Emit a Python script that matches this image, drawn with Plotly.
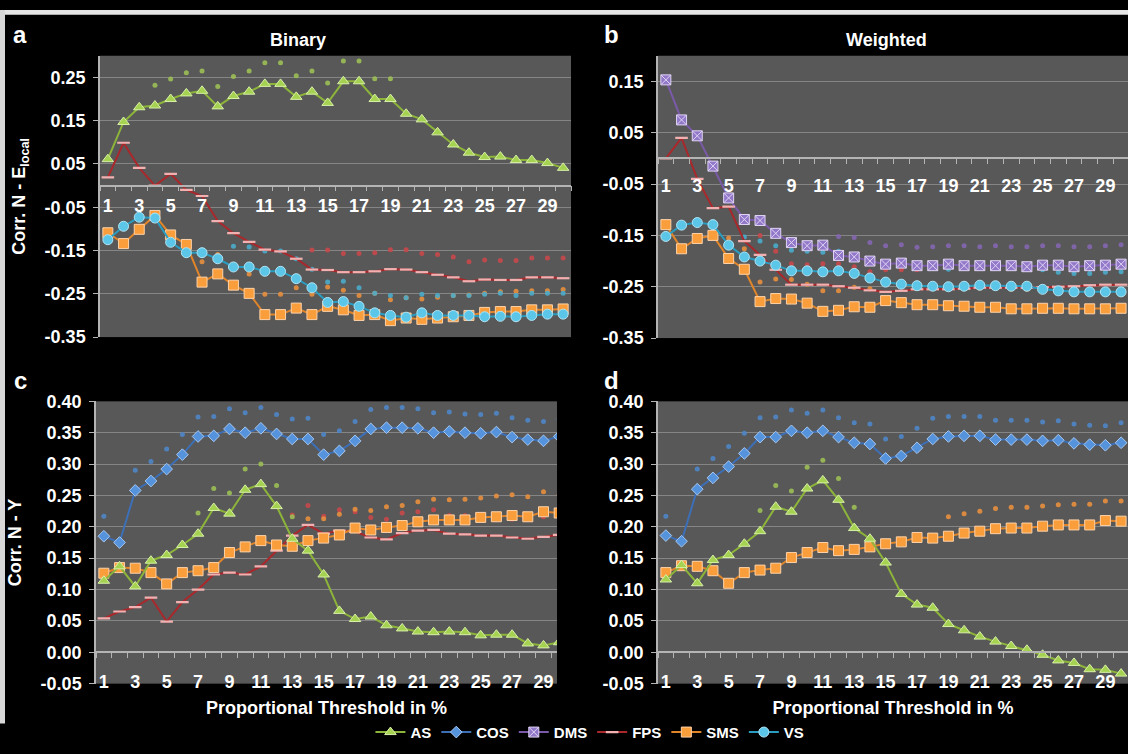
import plotly.graph_objects as go

W, H = 1128, 754
FONT = "Liberation Sans, Arial, sans-serif"

# ---------------- data ----------------
categories = list(range(1, 31))
x_tickvals = list(range(1, 30, 2))
x_ticktext = [str(v) for v in x_tickvals]

ytick_ab_vals = [0.25, 0.15, 0.05, -0.05, -0.15, -0.25, -0.35]
ytick_ab_text = ["0.25", "0.15", "0.05", "-0.05", "-0.15", "-0.25", "-0.35"]
ytick_b_vals = [0.15, 0.05, -0.05, -0.15, -0.25, -0.35]
ytick_b_text = ["0.15", "0.05", "-0.05", "-0.15", "-0.25", "-0.35"]
ytick_cd_vals = [0.40, 0.35, 0.30, 0.25, 0.20, 0.15, 0.10, 0.05, 0.00, -0.05]
ytick_cd_text = ["0.40", "0.35", "0.30", "0.25", "0.20", "0.15", "0.10", "0.05", "0.00", "-0.05"]

# Panel a: Binary, Corr. N - E_local
a_AS = [0.061, 0.147, 0.181, 0.185, 0.200, 0.213, 0.219, 0.183, 0.207, 0.217, 0.235, 0.235, 0.205, 0.217, 0.191,
        0.241, 0.241, 0.200, 0.200, 0.166, 0.153, 0.123, 0.095, 0.076, 0.066, 0.067, 0.059, 0.059, 0.052, 0.041]
a_FPS = [0.019, 0.099, 0.041, 0.000, 0.027, -0.010, -0.024, -0.082, -0.110, -0.130, -0.148, -0.152, -0.169, -0.194, -0.195,
         -0.200, -0.200, -0.198, -0.193, -0.194, -0.200, -0.206, -0.212, -0.221, -0.217, -0.218, -0.218, -0.212, -0.212, -0.214]
a_SMS = [-0.109, -0.134, -0.101, -0.069, -0.114, -0.136, -0.223, -0.204, -0.230, -0.249, -0.298, -0.298, -0.283, -0.298, -0.279,
         -0.287, -0.300, -0.298, -0.312, -0.306, -0.309, -0.306, -0.303, -0.300, -0.293, -0.291, -0.291, -0.287, -0.287, -0.285]
a_VS = [-0.125, -0.094, -0.073, -0.075, -0.131, -0.155, -0.155, -0.169, -0.188, -0.188, -0.198, -0.198, -0.215, -0.236, -0.270,
        -0.268, -0.279, -0.294, -0.300, -0.304, -0.294, -0.300, -0.300, -0.300, -0.303, -0.302, -0.303, -0.300, -0.297, -0.297]
# small dots (secondary estimates) — (first category, values)
a_AS_dots = (4, [0.232, 0.246, 0.261, 0.265, 0.229, 0.252, 0.265, 0.284, 0.284, 0.254, 0.265, 0.237, 0.288, 0.288, 0.247, 0.247])
a_FPS_dots = (14, [-0.149, -0.149, -0.157, -0.157, -0.155, -0.148, -0.148, -0.157, -0.159, -0.165, -0.176, -0.172, -0.173,
                   -0.173, -0.167, -0.167, -0.167])
a_SMS_dots = (7, [-0.176, -0.159, -0.182, -0.204, -0.251, -0.251, -0.236, -0.251, -0.234, -0.242, -0.254, -0.249, -0.264,
                  -0.259, -0.262, -0.258, -0.254, -0.253, -0.249, -0.245, -0.244, -0.243, -0.243, -0.240])
a_VS_dots = (9, [-0.140, -0.142, -0.151, -0.151, -0.169, -0.193, -0.223, -0.221, -0.236, -0.249, -0.254, -0.259, -0.251,
                 -0.254, -0.254, -0.254, -0.251, -0.249, -0.254, -0.249, -0.249, -0.249])

# Panel b: Weighted, Corr. N - E_local
b_DMS = [0.153, 0.075, 0.044, -0.015, -0.077, -0.119, -0.121, -0.146, -0.164, -0.170, -0.169, -0.189, -0.192, -0.200, -0.206,
         -0.204, -0.209, -0.209, -0.206, -0.209, -0.209, -0.209, -0.209, -0.211, -0.208, -0.208, -0.211, -0.209, -0.208, -0.206]
b_FPS = [0.000, 0.040, -0.040, -0.097, -0.094, -0.161, -0.188, -0.217, -0.246, -0.246, -0.246, -0.249, -0.252, -0.257, -0.260,
         -0.258, -0.255, -0.255, -0.255, -0.254, -0.252, -0.252, -0.252, -0.252, -0.251, -0.250, -0.249, -0.247, -0.246, -0.246]
b_SMS = [-0.129, -0.176, -0.156, -0.150, -0.195, -0.216, -0.279, -0.273, -0.274, -0.282, -0.298, -0.296, -0.289, -0.290, -0.277,
         -0.281, -0.285, -0.285, -0.287, -0.288, -0.290, -0.290, -0.293, -0.293, -0.292, -0.292, -0.293, -0.293, -0.293, -0.292]
b_VS = [-0.152, -0.130, -0.125, -0.129, -0.169, -0.192, -0.200, -0.208, -0.219, -0.219, -0.221, -0.219, -0.224, -0.233, -0.241,
        -0.245, -0.248, -0.249, -0.250, -0.249, -0.247, -0.248, -0.249, -0.249, -0.255, -0.258, -0.260, -0.260, -0.260, -0.260]
b_DMS_dots = (12, [-0.152, -0.154, -0.164, -0.170, -0.168, -0.173, -0.172, -0.170, -0.170, -0.172, -0.170, -0.172, -0.172,
                   -0.170, -0.170, -0.172, -0.172, -0.170, -0.168])
b_FPS_dots = (7, [-0.150, -0.181, -0.205, -0.207, -0.205, -0.205, -0.211, -0.221, -0.217, -0.217, -0.217, -0.213, -0.213,
                  -0.214, -0.213, -0.213, -0.214, -0.214, -0.213, -0.213, -0.213, -0.208, -0.208, -0.208])
b_SMS_dots = (5, [-0.155, -0.176, -0.241, -0.235, -0.236, -0.245, -0.258, -0.258, -0.251, -0.254, -0.243, -0.245, -0.249,
                  -0.249, -0.251, -0.252, -0.253, -0.253, -0.255, -0.255, -0.255, -0.255, -0.257, -0.257, -0.257, -0.255])
b_VS_dots = (6, [-0.153, -0.161, -0.170, -0.179, -0.181, -0.183, -0.181, -0.188, -0.197, -0.206, -0.208, -0.212, -0.214,
                 -0.216, -0.214, -0.212, -0.213, -0.214, -0.214, -0.217, -0.222, -0.224, -0.224, -0.222, -0.221])

# Panel c: Binary, Corr. N - Y
c_AS = [0.114, 0.137, 0.105, 0.146, 0.155, 0.171, 0.189, 0.230, 0.221, 0.259, 0.268, 0.233, 0.181, 0.162, 0.124,
        0.066, 0.053, 0.057, 0.043, 0.038, 0.033, 0.032, 0.033, 0.032, 0.027, 0.028, 0.028, 0.014, 0.011, 0.016]
c_COS = [0.185, 0.175, 0.258, 0.273, 0.292, 0.315, 0.344, 0.345, 0.356, 0.350, 0.357, 0.348, 0.340, 0.340, 0.315,
         0.321, 0.337, 0.356, 0.358, 0.358, 0.357, 0.350, 0.352, 0.350, 0.349, 0.351, 0.343, 0.339, 0.337, 0.344]
c_FPS = [0.054, 0.065, 0.072, 0.087, 0.049, 0.080, 0.100, 0.124, 0.127, 0.124, 0.137, 0.162, 0.186, 0.203, 0.189,
         0.194, 0.192, 0.183, 0.180, 0.190, 0.194, 0.195, 0.189, 0.188, 0.186, 0.186, 0.183, 0.181, 0.184, 0.187]
c_SMS = [0.126, 0.135, 0.134, 0.127, 0.109, 0.127, 0.130, 0.135, 0.159, 0.168, 0.178, 0.171, 0.169, 0.178, 0.182,
         0.187, 0.198, 0.195, 0.199, 0.202, 0.208, 0.211, 0.211, 0.211, 0.215, 0.216, 0.218, 0.216, 0.224, 0.222]
c_COS_dots = (1, [0.217, None, 0.290, 0.304, 0.324, 0.347, 0.375, 0.376, 0.388, 0.382, 0.390, 0.379, 0.372, 0.373, 0.347,
                  0.353, 0.368, 0.387, 0.390, 0.390, 0.388, 0.382, 0.383, 0.380, 0.379, 0.381, 0.374, 0.370, 0.368, 0.372])
c_AS_dots = (7, [0.222, 0.261, 0.254, 0.292, 0.300, 0.266, 0.216])
c_FPS_dots = (13, [0.219, 0.234, 0.217, 0.227, 0.224, 0.215, 0.212, 0.222, 0.224, 0.227, 0.218, 0.218, 0.215, 0.216,
                   0.212, 0.215, 0.216, 0.217])
c_SMS_dots = (14, [0.213, 0.213, 0.220, 0.228, 0.226, 0.232, 0.234, 0.240, 0.244, 0.243, 0.244, 0.246, 0.249, 0.251,
                   0.248, 0.256, 0.251])

# Panel d: Weighted, Corr. N - Y
d_AS = [0.116, 0.139, 0.110, 0.147, 0.155, 0.173, 0.193, 0.232, 0.224, 0.261, 0.274, 0.243, 0.198, 0.181, 0.143,
        0.093, 0.076, 0.071, 0.045, 0.035, 0.025, 0.017, 0.010, 0.004, -0.004, -0.013, -0.017, -0.027, -0.028, -0.034]
d_COS = [0.186, 0.177, 0.260, 0.278, 0.296, 0.317, 0.343, 0.343, 0.353, 0.350, 0.353, 0.343, 0.334, 0.332, 0.309,
         0.313, 0.326, 0.340, 0.344, 0.345, 0.345, 0.339, 0.339, 0.339, 0.337, 0.338, 0.333, 0.331, 0.330, 0.334]
d_SMS = [0.127, 0.138, 0.137, 0.130, 0.110, 0.127, 0.131, 0.134, 0.151, 0.159, 0.167, 0.162, 0.164, 0.168, 0.173,
         0.176, 0.183, 0.182, 0.185, 0.190, 0.193, 0.197, 0.198, 0.198, 0.201, 0.203, 0.203, 0.203, 0.210, 0.209]
d_COS_dots = (1, [0.217, None, 0.292, 0.309, 0.328, 0.349, 0.374, 0.375, 0.386, 0.381, 0.386, 0.374, 0.366, 0.364, 0.340,
                  0.344, 0.357, 0.373, 0.376, 0.376, 0.376, 0.370, 0.370, 0.370, 0.367, 0.369, 0.364, 0.362, 0.361, 0.366])
d_AS_dots = (7, [0.226, 0.266, 0.257, 0.295, 0.306, 0.277, 0.231])
d_SMS_dots = (19, [0.216, 0.221, 0.225, 0.229, 0.231, 0.231, 0.233, 0.235, 0.236, 0.236, 0.241, 0.241])

# ---------------- styles ----------------
STYLE = {
    "AS":  dict(line="#8db43a", fill="#a5d250", edge="#d8f0a8", symbol="triangle-up", size=10, dot="#9cbf55"),
    "COS": dict(line="#3d6fb6", fill="#5593dc", edge="#a8c8f0", symbol="diamond", size=9, dot="#4f86c8"),
    "DMS": dict(line="#7a5aa8", fill="#9278c8", edge="#e0d4f4", symbol="square-x", size=10, dot="#8466b0"),
    "FPS": dict(line="#a8282c", fill="#f2aaaa", edge="#f2b0b0", symbol="line-ew", size=9, dot="#c8484a"),
    "SMS": dict(line="#e0852a", fill="#fa9e3c", edge="#fdd2a8", symbol="square", size=10, dot="#e8903e"),
    "VS":  dict(line="#2a9cc0", fill="#5cc6e8", edge="#b0e4f4", symbol="circle", size=10, dot="#4aaccc"),
}
ORDER = ["AS", "COS", "DMS", "FPS", "SMS", "VS"]

BG = "#000000"
PLOT_BG = "#585858"
GRID = "#858585"
AXC = "#b4b4b4"

def px_x(l, r):
    return [l / W, r / W]

def px_y(t, b):
    return [1 - b / H, 1 - t / H]

panels = {
    "a": dict(xd=px_x(100, 571), yd=px_y(47, 336), xr=[0.5, 30.5], yr=[-0.35, 0.30], lab_off=0),
    "b": dict(xd=px_x(658, 1128), yd=px_y(47, 337), xr=[0.5, 30.44], yr=[-0.35, 0.20], lab_off=7),
    "c": dict(xd=px_x(96, 557), yd=px_y(402, 692), xr=[0.5, 29.86], yr=[-0.05, 0.40], lab_off=9),
    "d": dict(xd=px_x(658, 1128), yd=px_y(402, 692), xr=[0.5, 30.44], yr=[-0.05, 0.40], lab_off=9),
}
axis_ids = {"a": "", "b": "2", "c": "3", "d": "4"}

series = {
    "a": [("AS", a_AS, a_AS_dots), ("FPS", a_FPS, a_FPS_dots), ("SMS", a_SMS, a_SMS_dots), ("VS", a_VS, a_VS_dots)],
    "b": [("DMS", b_DMS, b_DMS_dots), ("FPS", b_FPS, b_FPS_dots), ("SMS", b_SMS, b_SMS_dots), ("VS", b_VS, b_VS_dots)],
    "c": [("COS", c_COS, c_COS_dots), ("FPS", c_FPS, c_FPS_dots), ("SMS", c_SMS, c_SMS_dots), ("AS", c_AS, c_AS_dots)],
    "d": [("COS", d_COS, d_COS_dots), ("SMS", d_SMS, d_SMS_dots), ("AS", d_AS, d_AS_dots)],
}

fig = go.Figure()
shown = set()

for p, lst in series.items():
    aid = axis_ids[p]
    xa, ya = "x" + aid, "y" + aid
    # dots first (behind)
    for name, vals, dots in lst:
        st = STYLE[name]
        start, dv = dots
        fig.add_trace(go.Scatter(
            x=categories[start - 1:start - 1 + len(dv)], y=dv, mode="markers",
            marker=dict(symbol="circle", size=5, color=st["dot"], opacity=0.9),
            xaxis=xa, yaxis=ya, showlegend=False, hoverinfo="skip"))
    for name, vals, dots in lst:
        st = STYLE[name]
        if name == "FPS":
            mk = dict(symbol="line-ew", size=st["size"], line=dict(color=st["edge"], width=2.2))
        else:
            mk = dict(symbol=st["symbol"], size=st["size"], color=st["fill"], line=dict(color=st["edge"], width=1))
        fig.add_trace(go.Scatter(
            x=categories, y=vals, mode="lines+markers", name=name,
            line=dict(color=st["line"], width=2), marker=mk,
            xaxis=xa, yaxis=ya, legendgroup=name, showlegend=name not in shown,
            legendrank=ORDER.index(name) + 1))
        shown.add(name)

tickfont = dict(family=FONT, size=18, color="white", weight="bold")
boundaries = [v + 0.5 for v in range(0, 31)]

layout = dict(
    width=W, height=H, margin=dict(l=0, r=0, t=0, b=0),
    paper_bgcolor=BG, plot_bgcolor=PLOT_BG,
    font=dict(family=FONT, color="white"),
    showlegend=True,
    legend=dict(orientation="h", x=0.523, xanchor="center", y=1 - 742 / H, yanchor="middle",
                font=dict(family=FONT, size=15, color="white", weight="bold"),
                bgcolor="rgba(0,0,0,0)", itemwidth=30, tracegroupgap=0),
)

for p, cfg in panels.items():
    aid = axis_ids[p]
    y0, y1 = cfg["yr"]
    d0, d1 = cfg["yd"]
    zero_pos = d0 + (0 - y0) / (y1 - y0) * (d1 - d0)
    xa = dict(domain=cfg["xd"], range=cfg["xr"], anchor="free", position=zero_pos,
              showgrid=False, zeroline=False, showline=True, linecolor=AXC, linewidth=1.5,
              tickmode="array", tickvals=x_tickvals, ticktext=x_ticktext,
              ticks="outside", ticklen=4, tickcolor="rgba(0,0,0,0)",
              ticklabelstandoff=cfg["lab_off"],
              minor=dict(tickmode="array", tickvals=boundaries, ticks="outside", ticklen=5,
                         tickcolor=AXC, tickwidth=1, showgrid=False),
              tickfont=tickfont)
    if p in ("c", "d"):
        xa["title"] = dict(text="Proportional Threshold in %", standoff=10,
                           font=dict(family=FONT, size=18, color="white", weight="bold"))
    if p == "a":
        tv, tt = ytick_ab_vals, ytick_ab_text
    elif p == "b":
        tv, tt = ytick_b_vals, ytick_b_text
    else:
        tv, tt = ytick_cd_vals, ytick_cd_text
    ya = dict(domain=cfg["yd"], range=cfg["yr"], anchor="x" + aid,
              tickmode="array", tickvals=tv, ticktext=tt,
              showgrid=True, gridcolor=GRID, gridwidth=1, zeroline=False,
              showline=True, linecolor=AXC, linewidth=1.5,
              ticks="outside", ticklen=5, tickcolor=AXC, ticklabelstandoff=4,
              tickfont=tickfont)
    if p == "a":
        ya["title"] = dict(text="Corr. N - E<sub>local</sub>", standoff=14,
                           font=dict(family=FONT, size=18, color="white", weight="bold"))
    if p == "c":
        ya["title"] = dict(text="Corr. N - Y", standoff=14,
                           font=dict(family=FONT, size=18, color="white", weight="bold"))
    layout["xaxis" + aid] = xa
    layout["yaxis" + aid] = ya

fig.update_layout(**layout)

ann_font_big = dict(family=FONT, size=24, color="white", weight="bold")
ann_font = dict(family=FONT, size=18, color="white", weight="bold")
labels = [("a", 20, 25, ann_font_big), ("b", 611, 25, ann_font_big),
          ("c", 20, 381, ann_font_big), ("d", 611, 381, ann_font_big),
          ("Binary", 298, 31, ann_font), ("Weighted", 886, 31, ann_font)]
for txt, px, py, f in labels:
    fig.add_annotation(text=txt, x=px / W, y=1 - py / H, xref="paper", yref="paper",
                       showarrow=False, font=f, xanchor="center", yanchor="middle")

# light frame remnants at the top and left edges of the original figure
fig.add_shape(type="rect", xref="paper", yref="paper", x0=0, x1=1, y0=1 - 5 / H, y1=1,
              fillcolor="#e6e6e6", line=dict(width=0), layer="above")
fig.add_shape(type="rect", xref="paper", yref="paper", x0=0, x1=5 / W, y0=1 - 733 / H, y1=1,
              fillcolor="#d8d8d8", line=dict(width=0), layer="above")

fig.write_html(
    "out.html",
    config={"displayModeBar": False},
    post_script=("document.documentElement.style.margin='0';"
                 "document.body.style.margin='0';document.body.style.padding='0';"
                 "document.body.style.overflow='hidden';"
                 "var d=document.getElementById('{plot_id}');"
                 "d.style.position='absolute';d.style.top='0px';d.style.left='0px';"),
)
